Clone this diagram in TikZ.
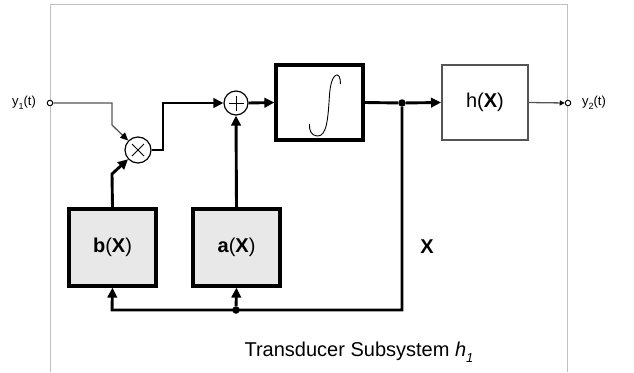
\documentclass[tikz,border=0pt]{standalone}
\usepackage{fontspec}
\setmainfont{Liberation Sans}
\usetikzlibrary{arrows.meta,calc}
\definecolor{boxgray}{HTML}{E8E8E8}
\definecolor{framegray}{HTML}{C0C0C0}
\definecolor{thingray}{HTML}{555555}
\newcommand{\lowsub}[1]{\raisebox{-0.3em}{\fontsize{9}{9}\selectfont #1}}
\newcommand{\biglbl}{\fontsize{20}{24}\selectfont}
\newcommand{\smalllbl}{\fontsize{13}{15}\selectfont}
\begin{document}
\begin{tikzpicture}[x=1pt,y=-1pt,
  thickline/.style={line width=2.9pt},
  thinline/.style={line width=1.3pt, draw=thingray},
  bigarrow/.style={-{Triangle[length=10pt,width=9.5pt]}},
  smallarrow/.style={-{Triangle[length=5pt,width=5pt,color=black]}},
  fnbox/.style={draw, line width=3.2pt, fill=boxgray, minimum width=87pt, minimum height=77pt, inner sep=0pt, font=\biglbl},
  opbox/.style={draw, line width=3.2pt, minimum width=87pt, minimum height=75pt, inner sep=0pt},
  outbox/.style={draw=thingray, line width=2pt, minimum width=86pt, minimum height=75pt, inner sep=0pt, font=\biglbl},
  opcirc/.style={circle, draw, line width=1.2pt, inner sep=0pt},
  port/.style={circle, draw=black, line width=1pt, fill=white, minimum size=5.5pt, inner sep=0pt},
  dot/.style={circle, fill=black, minimum size=7.5pt, inner sep=0pt},
  lbl/.style={inner sep=0pt}
]
\useasboundingbox (0,0) rectangle (634,372);
% frame
\draw[framegray, line width=1pt] (50,372) -- (50,4) -- (567,4) -- (567,372);

% nodes
\node[opcirc, minimum size=26pt] (mul) at (138,150) {};
\draw[line width=0.9pt] ($(mul)+(-6,-6)$) -- ($(mul)+(6,6)$) ($(mul)+(-6,6)$) -- ($(mul)+(6,-6)$);
\node[opcirc, minimum size=24pt] (sum) at (236,103) {};
\draw[line width=0.9pt] ($(sum)+(-7.5,0)$) -- ($(sum)+(7.5,0)$) ($(sum)+(0,-7.5)$) -- ($(sum)+(0,7.5)$);
\node[opbox] (int) at (319.5,102.5) {};
\node[outbox] (hx) at (485,102.5) {h(\textbf{X})};
\node[fnbox] (bx) at (112.5,247.5) {\textbf{b}(\textbf{X})};
\node[fnbox] (ax) at (236.5,247.5) {\textbf{a}(\textbf{X})};

\node[port] (in) at (50,103) {};
\node[port] (out) at (568,103) {};
\node[dot] (j1) at (402,103) {};
\node[dot] (j2) at (236,310) {};
\coordinate (c1) at (112,103);
\coordinate (c2) at (112,125);
\coordinate (c3) at (112,174);
\coordinate (c4) at (163,150);
\coordinate (c5) at (163,103);
\coordinate (c6) at (402,310);
\coordinate (c7) at (112,310);

% integral sign
\draw[line width=0.9pt] (340.3,84) .. controls (341,70) and (331,71) .. (329.5,95)
  .. controls (328,118) and (327,137) .. (317,136) .. controls (311,135.5) and (309,130) .. (309.5,124);

% labels
\node[lbl, font=\smalllbl] (y1) at (24,103) {y\lowsub{1}(t)};
\node[lbl, font=\smalllbl] (y2) at (594,103) {y\lowsub{2}(t)};
\node[lbl, font=\biglbl] (xl) at (427,247) {\textbf{X}};
\node[lbl, font=\biglbl, anchor=base] (title) at (359,356) {Transducer Subsystem \textit{h}\raisebox{-0.3em}{\fontsize{13}{13}\selectfont\itshape 1}};

% connectors
\draw[thinline, -{Triangle[length=8pt,width=7pt,color=black]}] (in) -- (c1) -- (c2) -- (mul);
\draw[thickline, bigarrow] (bx.north) -- (c3) -- (mul);
\draw[thickline, bigarrow] (mul.east) -- (c4) -- (c5) -- (sum.west);
\draw[thickline, bigarrow] (sum.east) -- (int.west);
\draw[thickline] (int.east) -- (j1);
\draw[thickline, bigarrow] (j1) -- (hx.west);
\draw[thinline, smallarrow] (hx.east) -- (out.west);
\draw[thickline, bigarrow] (j1) -- (c6) -- (c7) -- (bx.south);
\draw[thickline, bigarrow] (j2) -- (ax.south);
\draw[thickline, bigarrow] (ax.north) -- (sum.south);
\end{tikzpicture}
\end{document}
